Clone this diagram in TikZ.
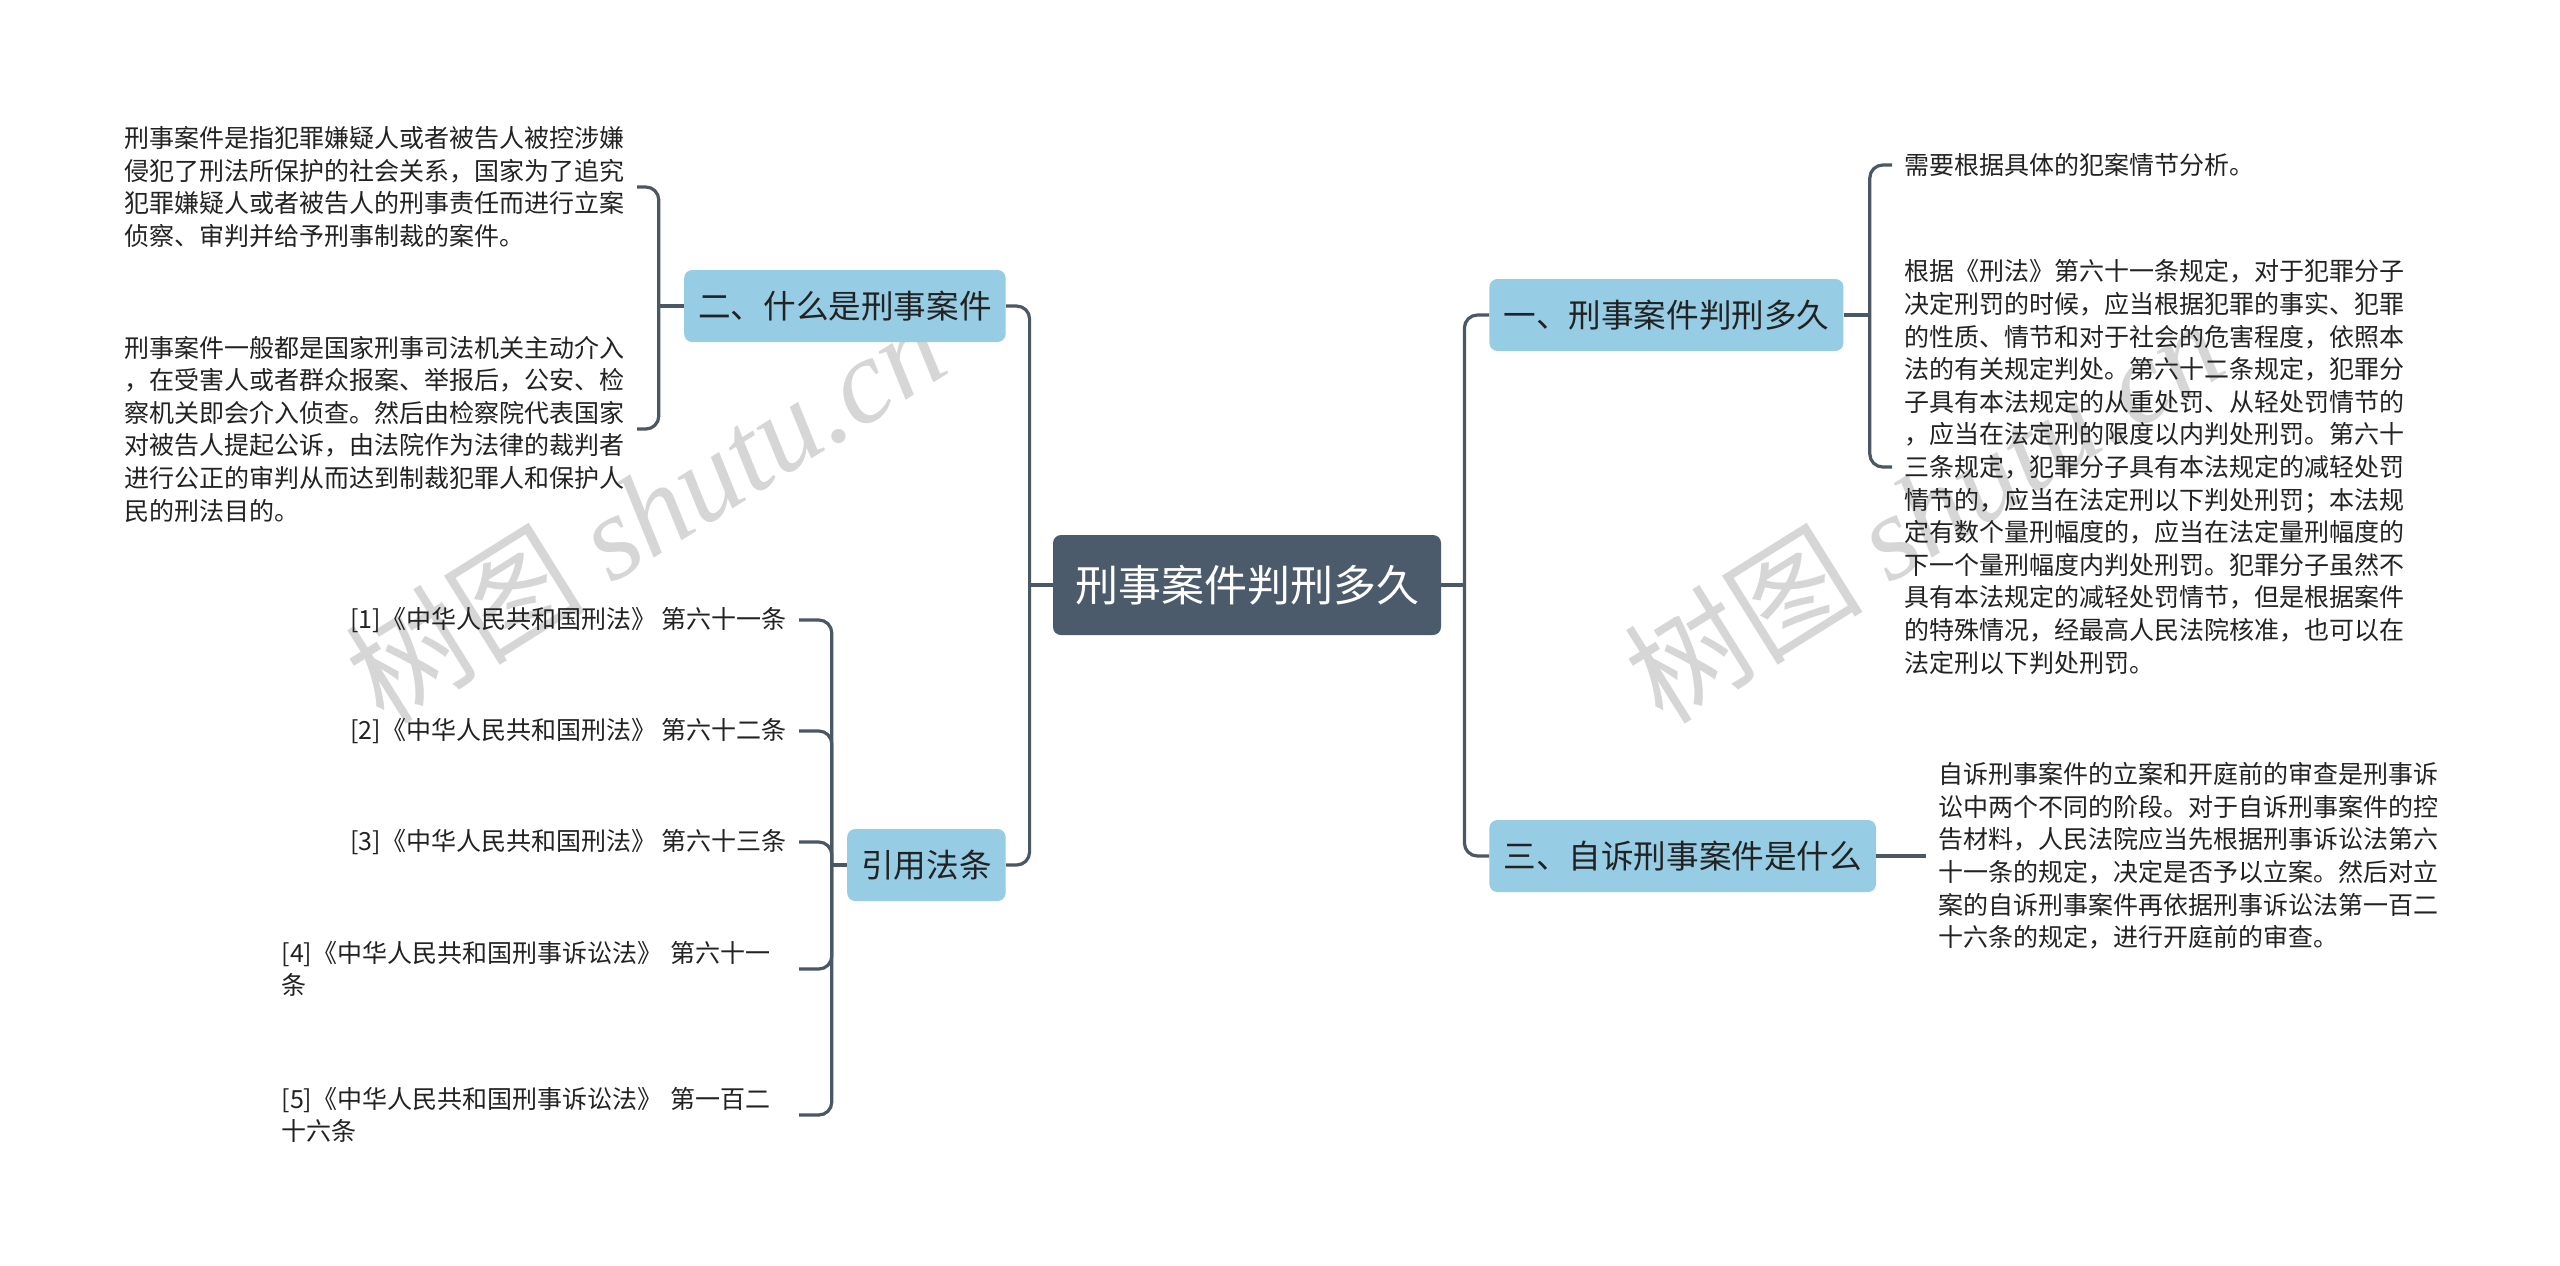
\documentclass[tikz,border=0pt]{standalone}
\usepackage{fontspec}
\setmainfont{Noto Sans CJK SC}
\newfontfamily\markserif{Liberation Serif}
\usepackage{tikz}
\usetikzlibrary{positioning}
\definecolor{rootslate}{RGB}{75, 91, 107}
\definecolor{branchblue}{RGB}{150, 204, 228}
\definecolor{linkslate}{RGB}{74, 88, 102}
\definecolor{inkdark}{RGB}{34, 34, 34}
\definecolor{markgray}{RGB}{214, 214, 214}

\begin{document}
\begin{tikzpicture}[
    x=0.5pt, y=-0.5pt,
    rootbox/.style={rectangle, rounded corners=4pt, fill=rootslate, text=white,
        font=\fontsize{21.5pt}{26pt}\selectfont, minimum height=50pt, inner xsep=11pt},
    branch/.style={rectangle, rounded corners=4pt, fill=branchblue, text=inkdark,
        font=\fontsize{16.3pt}{20pt}\selectfont, minimum height=36pt, inner xsep=7pt},
    leaf/.style={text=inkdark, font=\fontsize{12.5pt}{16.3pt}\selectfont,
        align=left, inner xsep=6pt, inner ysep=2pt},
    link/.style={draw=linkslate, line width=1.6pt, rounded corners=6.5pt},
    watermark/.style={text=markgray, font=\fontsize{60pt}{60pt}\selectfont, rotate=32}
]
    \useasboundingbox (0,0) rectangle (2560,1265);

    % watermarks
    \node[watermark] (wm1) at (645, 510) {树图 {\markserif\itshape shutu.cn}};
    \node[watermark] (wm2) at (1923, 510) {树图 {\markserif\itshape shutu.cn}};

    % centre and main branches
    \node[rootbox] (root) at (1247, 585) {刑事案件判刑多久};
    \node[branch, anchor=west] (b1) at (1489, 315) {一、刑事案件判刑多久};
    \node[branch, anchor=east] (b2) at (1006, 306) {二、什么是刑事案件};
    \node[branch, anchor=west] (b3) at (1489, 856) {三、自诉刑事案件是什么};
    \node[branch, anchor=east] (b4) at (1006, 865) {引用法条};

    % junctions
    \coordinate[left=11.5pt of root.west] (lt);
    \coordinate[right=11.5pt of root.east] (rt);
    \coordinate[right=13pt of b1.east] (bk1);
    \coordinate[left=12.5pt of b2.west] (bk2);
    \coordinate[left=7.5pt of b4.west] (bk4);

    % leaves of branch one
    \node[leaf, anchor=west] (l11) at (1892, 165) {需要根据具体的犯案情节分析。};
    \node[leaf, anchor=west] (l12) at (1892, 467) {根据《刑法》第六十一条规定，对于犯罪分子\\
        决定刑罚的时候，应当根据犯罪的事实、犯罪\\
        的性质、情节和对于社会的危害程度，依照本\\
        法的有关规定判处。第六十二条规定，犯罪分\\
        子具有本法规定的从重处罚、从轻处罚情节的\\
        ，应当在法定刑的限度以内判处刑罚。第六十\\
        三条规定，犯罪分子具有本法规定的减轻处罚\\
        情节的，应当在法定刑以下判处刑罚；本法规\\
        定有数个量刑幅度的，应当在法定量刑幅度的\\
        下一个量刑幅度内判处刑罚。犯罪分子虽然不\\
        具有本法规定的减轻处罚情节，但是根据案件\\
        的特殊情况，经最高人民法院核准，也可以在\\
        法定刑以下判处刑罚。};

    % leaves of branch two
    \node[leaf, anchor=east] (l21) at (637, 187) {刑事案件是指犯罪嫌疑人或者被告人被控涉嫌\\
        侵犯了刑法所保护的社会关系，国家为了追究\\
        犯罪嫌疑人或者被告人的刑事责任而进行立案\\
        侦察、审判并给予刑事制裁的案件。};
    \node[leaf, anchor=east] (l22) at (637, 429) {刑事案件一般都是国家刑事司法机关主动介入\\
        ，在受害人或者群众报案、举报后，公安、检\\
        察机关即会介入侦查。然后由检察院代表国家\\
        对被告人提起公诉，由法院作为法律的裁判者\\
        进行公正的审判从而达到制裁犯罪人和保护人\\
        民的刑法目的。};

    % leaf of branch three
    \node[leaf, anchor=west] (l31) at (1926, 856) {自诉刑事案件的立案和开庭前的审查是刑事诉\\
        讼中两个不同的阶段。对于自诉刑事案件的控\\
        告材料，人民法院应当先根据刑事诉讼法第六\\
        十一条的规定，决定是否予以立案。然后对立\\
        案的自诉刑事案件再依据刑事诉讼法第一百二\\
        十六条的规定，进行开庭前的审查。};

    % cited articles
    \foreach \i/\y/\t in {1/620/六十一条, 2/731/六十二条, 3/842/六十三条} {
        \node[leaf, anchor=east] (l4\i) at (799, \y) {[\i]《中华人民共和国刑法》 第\t};
    }
    \node[leaf, anchor=east, text width=252.5pt] (l44) at (799, 969)
        {[4]《中华人民共和国刑事诉讼法》 第六十一\\条};
    \node[leaf, anchor=east, text width=252.5pt] (l45) at (799, 1115)
        {[5]《中华人民共和国刑事诉讼法》 第一百二\\十六条};

    % Connections
    \draw[link] (root.west) -- (lt);
    \draw[link] (lt) |- (b2.east);
    \draw[link] (lt) |- (b4.east);
    \draw[link] (root.east) -- (rt);
    \draw[link] (rt) |- (b1.west);
    \draw[link] (rt) |- (b3.west);

    \draw[link] (b1.east) -- (bk1);
    \foreach \c in {l11, l12} {
        \draw[link] (bk1) |- (\c.west);
    }
    \draw[link] (b2.west) -- (bk2);
    \foreach \c in {l21, l22} {
        \draw[link] (bk2) |- (\c.east);
    }
    \draw[link] (b3.east) -- (l31.west);
    \draw[link] (b4.west) -- (bk4);
    \foreach \i in {1,...,5} {
        \draw[link] (bk4) |- (l4\i.east);
    }
\end{tikzpicture}
\end{document}
